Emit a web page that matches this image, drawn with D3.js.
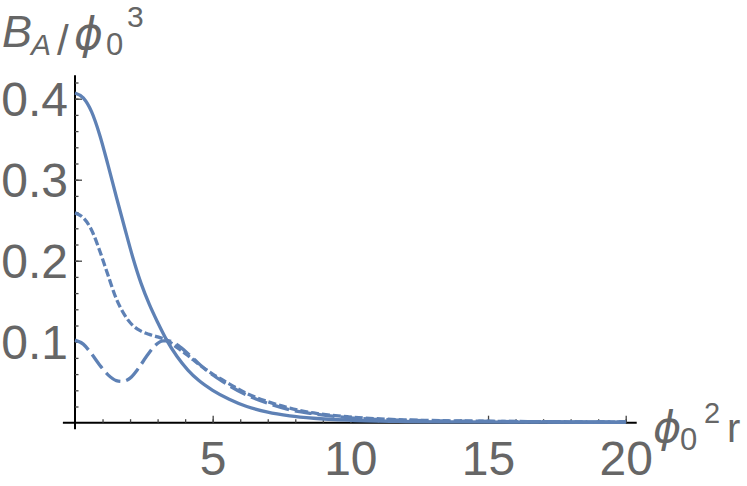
<!DOCTYPE html>
<html>
<head>
<meta charset="utf-8">
<script src="https://cdn.jsdelivr.net/npm/d3@7"></script>
<style>
  html, body { margin: 0; padding: 0; background: #fff; }
  svg { display: block; }
  text { font-family: "Liberation Sans", Arial, Helvetica, sans-serif; fill: #666666; }
</style>
</head>
<body>
<svg id="chart" width="747" height="486"></svg>
<script>
// ---- data ----
const solidX  = [0, 0.3, 0.6, 0.9, 1.2, 1.5, 1.8, 2.1, 2.4, 2.7, 3.0, 3.33, 3.7, 4.1, 4.5, 5.0, 5.6, 6.24, 7.0, 7.8, 8.67, 10, 12, 14, 17, 20];
const solidY  = [0.407, 0.401, 0.384, 0.355, 0.318, 0.279, 0.241, 0.204, 0.172, 0.146, 0.124, 0.102, 0.082, 0.065, 0.052, 0.040, 0.029, 0.020, 0.013, 0.0085, 0.0055, 0.003, 0.0015, 0.001, 0.0007, 0.0005];

const shortX  = [0, 0.3, 0.6, 0.9, 1.2, 1.5, 1.8, 2.1, 2.4, 2.7, 3.0, 3.33, 3.7, 4.1, 4.5, 5.0, 5.6, 6.24, 7.0, 7.8, 8.67, 10, 12, 14.6, 17, 20];
const shortY  = [0.259, 0.253, 0.238, 0.212, 0.182, 0.153, 0.133, 0.120, 0.113, 0.109, 0.106, 0.102, 0.093, 0.083, 0.072, 0.060, 0.048, 0.036, 0.026, 0.018, 0.012, 0.007, 0.0035, 0.002, 0.0013, 0.001];

const longX   = [0, 0.3, 0.6, 0.9, 1.2, 1.5, 1.7, 2.0, 2.3, 2.6, 2.9, 3.2, 3.4, 3.8, 4.3, 4.8, 5.4, 6.24, 7.0, 7.8, 8.67, 10, 12, 14.6, 17, 20];
const longY   = [0.102, 0.097, 0.085, 0.071, 0.059, 0.052, 0.051, 0.055, 0.067, 0.082, 0.095, 0.101, 0.101, 0.094, 0.079, 0.064, 0.050, 0.034, 0.024, 0.016, 0.011, 0.006, 0.003, 0.0018, 0.0012, 0.001];

const xMajor  = [5, 10, 15, 20];
const xMinor  = d3.range(1, 21);
const yMajor  = [0.1, 0.2, 0.3, 0.4];
const yMinor  = d3.range(1, 22).map(i => +(i * 0.02).toFixed(2));

// ---- layout ----
const svg = d3.select("#chart");
const x = d3.scaleLinear().domain([0, 20]).range([75, 625.7]);
const y = d3.scaleLinear().domain([0, 0.4]).range([422.7, 98.7]);
const color = "#5E81B5";

const gAxes = svg.append("g");

// axis lines
gAxes.append("line")
  .attr("x1", x(-0.44)).attr("x2", x(20.4))
  .attr("y1", y(0)).attr("y2", y(0))
  .attr("stroke", "#000").attr("stroke-width", 2);
gAxes.append("line")
  .attr("x1", x(0)).attr("x2", x(0))
  .attr("y1", y(-0.008)).attr("y2", y(0.429))
  .attr("stroke", "#000").attr("stroke-width", 2);

// x ticks
const xMinorAxis = d3.axisBottom(x).tickValues(xMinor).tickSize(-3.5).tickFormat("");
const xMajorAxis = d3.axisBottom(x).tickValues(xMajor).tickSize(-7).tickFormat(d3.format("d"));
const gxm = gAxes.append("g").attr("transform", `translate(0,${y(0)})`).call(xMinorAxis);
const gxM = gAxes.append("g").attr("transform", `translate(0,${y(0)})`).call(xMajorAxis);

// y ticks
const yMinorAxis = d3.axisLeft(y).tickValues(yMinor).tickSize(-3.5).tickFormat("");
const yMajorAxis = d3.axisLeft(y).tickValues(yMajor).tickSize(-7).tickFormat(d3.format(".1f"));
const gym = gAxes.append("g").attr("transform", `translate(${x(0)},0)`).call(yMinorAxis);
const gyM = gAxes.append("g").attr("transform", `translate(${x(0)},0)`).call(yMajorAxis);

[gxm, gxM, gym, gyM].forEach(g => {
  g.select(".domain").remove();
  g.selectAll(".tick line").attr("stroke", "#444").attr("stroke-width", 1.3);
});

gxM.selectAll(".tick text")
  .attr("y", 52).attr("dy", null)
  .style("font-size", "48px").style("fill", "#666");
gyM.selectAll(".tick text")
  .attr("x", -7).attr("dy", "0.35em")
  .style("font-size", "48px").style("fill", "#666");

// curves
function drawCurve(xs, ys, dash) {
  const pts = xs.map((d, i) => [d, ys[i]]);
  const line = d3.line().x(d => x(d[0])).y(d => y(d[1])).curve(d3.curveMonotoneX);
  svg.append("path")
    .attr("d", line(pts))
    .attr("fill", "none")
    .attr("stroke", color)
    .attr("stroke-width", 3.3)
    .attr("stroke-dasharray", dash);
}
drawCurve(solidX, solidY, null);
drawCurve(shortX, shortY, "8,3");
drawCurve(longX, longY, "17,6");

// axis labels
const phiFont = "'DejaVu Sans', 'Liberation Sans', sans-serif";
const yl = svg.append("text").style("fill", "#666");
yl.append("tspan").attr("x", 2).attr("y", 47).style("font-size", "45px").style("font-style", "italic").text("B");
yl.append("tspan").attr("x", 31).attr("y", 55).style("font-size", "30px").style("font-style", "italic").text("A");
yl.append("tspan").attr("x", 57).attr("y", 55).style("font-size", "42px").text("/");
yl.append("tspan").attr("x", 74).attr("y", 49).style("font-size", "44px").style("font-style", "italic").style("font-family", phiFont).text("ϕ");
yl.append("tspan").attr("x", 106).attr("y", 55).style("font-size", "31px").text("0");
yl.append("tspan").attr("x", 127).attr("y", 27).style("font-size", "30px").text("3");

const xl = svg.append("text").style("fill", "#666");
xl.append("tspan").attr("x", 653).attr("y", 442).style("font-size", "43px").style("font-style", "italic").style("font-family", phiFont).text("ϕ");
xl.append("tspan").attr("x", 680).attr("y", 450).style("font-size", "31px").text("0");
xl.append("tspan").attr("x", 704).attr("y", 423).style("font-size", "29px").text("2");
xl.append("tspan").attr("x", 727).attr("y", 442).style("font-size", "40px").text("r");
</script>
</body>
</html>
